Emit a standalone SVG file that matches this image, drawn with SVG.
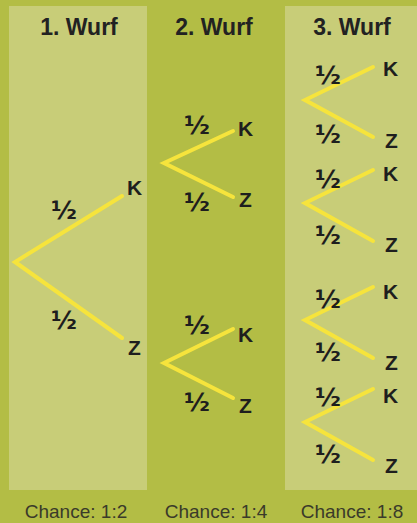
<svg xmlns="http://www.w3.org/2000/svg" width="417" height="523" viewBox="0 0 417 523">
<style>
.panel{fill:#c8cd78}
.title{font-family:"Liberation Sans",Arial,sans-serif;font-weight:bold;font-size:23px;fill:#222;text-anchor:middle}
.lbl{font-family:"Liberation Sans",Arial,sans-serif;font-weight:bold;font-size:21px;fill:#1e1e1e}
.frac{font-family:"DejaVu Sans",sans-serif;font-weight:bold;font-size:25px;fill:#1e1e1e}
.foot{font-family:"Liberation Sans",Arial,sans-serif;font-size:19px;fill:#3a3a2a;text-anchor:middle}
.edge{fill:none;stroke:#f6e43c;stroke-width:4;stroke-linecap:round;stroke-linejoin:miter}
</style>
<rect width="417" height="523" fill="#b3bd45"/>
<g id="panel1"><rect class="panel" x="9" y="6" width="138" height="484"/><text class="title" x="79" y="35">1. Wurf</text><text class="foot" x="76" y="518">Chance: 1:2</text></g>
<g id="panel2"><text class="title" x="214" y="35">2. Wurf</text><text class="foot" x="216" y="518">Chance: 1:4</text></g>
<g id="panel3"><rect class="panel" x="285" y="6" width="132" height="484"/><text class="title" x="352" y="35">3. Wurf</text><text class="foot" x="352" y="518">Chance: 1:8</text></g>
<g id="connectors">
<polyline class="edge" points="122,196 15,262 122,338"/>
<polyline class="edge" points="233,131 164,163 233,197"/>
<polyline class="edge" points="233,329 164,363 233,398"/>
<polyline class="edge" points="373,67 305,100 373,137"/>
<polyline class="edge" points="373,170 305,203 373,241"/>
<polyline class="edge" points="373,287 305,320 373,358"/>
<polyline class="edge" points="373,389 305,422 373,460"/>
</g>
<g id="tree1">
<text class="frac" x="51" y="219">½</text><text class="frac" x="51" y="329">½</text>
<text class="lbl" x="127" y="195">K</text><text class="lbl" x="128" y="355">Z</text>
</g>
<g id="tree2a">
<text class="frac" x="184" y="134">½</text><text class="frac" x="184" y="211">½</text>
<text class="lbl" x="238" y="136">K</text><text class="lbl" x="239" y="207">Z</text>
</g>
<g id="tree2b">
<text class="frac" x="184" y="334">½</text><text class="frac" x="184" y="411">½</text>
<text class="lbl" x="238" y="342">K</text><text class="lbl" x="239" y="413">Z</text>
</g>
<g id="tree3a">
<text class="frac" x="315" y="84">½</text><text class="frac" x="315" y="143">½</text>
<text class="lbl" x="383" y="76">K</text><text class="lbl" x="385" y="148">Z</text>
</g>
<g id="tree3b">
<text class="frac" x="315" y="188">½</text><text class="frac" x="315" y="244">½</text>
<text class="lbl" x="383" y="181">K</text><text class="lbl" x="385" y="252">Z</text>
</g>
<g id="tree3c">
<text class="frac" x="315" y="308">½</text><text class="frac" x="315" y="361">½</text>
<text class="lbl" x="383" y="299">K</text><text class="lbl" x="385" y="370">Z</text>
</g>
<g id="tree3d">
<text class="frac" x="315" y="406">½</text><text class="frac" x="315" y="463">½</text>
<text class="lbl" x="383" y="403">K</text><text class="lbl" x="385" y="473">Z</text>
</g>
</svg>
